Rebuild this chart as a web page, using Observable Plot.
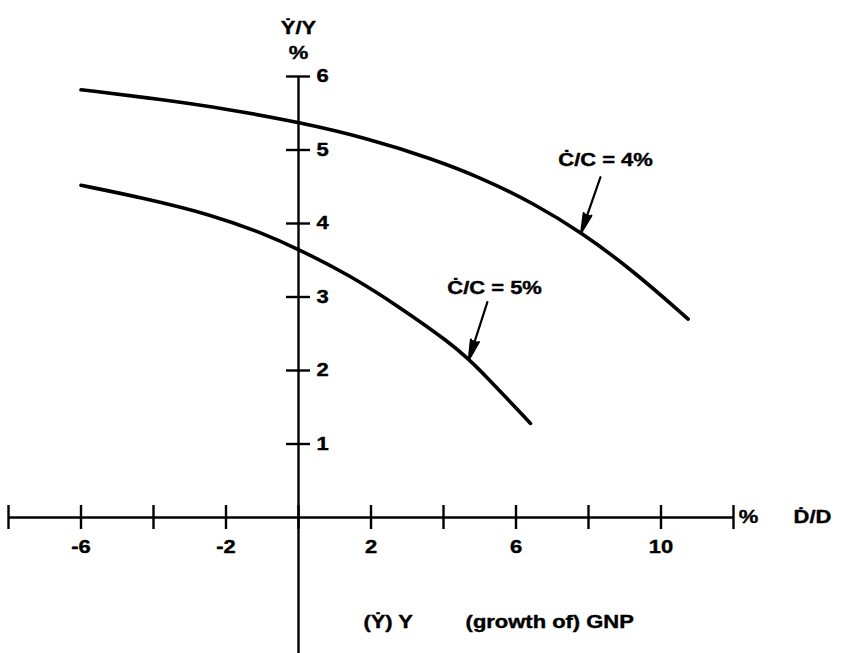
<!DOCTYPE html>
<html>
<head>
<meta charset="utf-8">
<script src="https://cdn.jsdelivr.net/npm/d3@7"></script>
<script src="https://cdn.jsdelivr.net/npm/@observablehq/plot@0.6"></script>
<style>
  html, body { margin: 0; padding: 0; background: #fff; }
  svg { display: block; }
</style>
</head>
<body>
<div id="chart"></div>
<script>
// Growth of GNP (Ẏ/Y) against growth of debt (Ḋ/D), for two consumption growth rates
const curve4X = [-6, -3.8, -2, 0, 1.9, 3.7, 5.1, 6.5, 7.8, 9.2, 10.75];
const curve4Y = [5.82, 5.69, 5.56, 5.38, 5.16, 4.88, 4.61, 4.27, 3.88, 3.37, 2.70];
const curve5X = [-6, -4.3, -2.4, -1, 0, 1.4, 2.8, 4.2, 4.7, 5.1, 6.4];
const curve5Y = [4.52, 4.35, 4.12, 3.87, 3.65, 3.30, 2.86, 2.37, 2.15, 1.96, 1.28];

const xTicks = [-8, -6, -4, -2, 0, 2, 4, 6, 8, 10, 12];
const xTickLabels = [-6, -2, 2, 6, 10];
const yTicks = [1, 2, 3, 4, 5, 6];

// curve labels: text, label centre, arrow tail, and index of the curve point the arrow hits
const labelText = ["Ċ/C = 4%", "Ċ/C = 5%"];
const labelX = [8.47, 5.41];
const labelY = [4.86, 3.12];
const arrowFromX = [8.33, 5.21];
const arrowFromY = [4.63, 2.93];
const arrowTipIndex = [8, 8];

const toPoints = (xs, ys) => xs.map((x, i) => ({x, y: ys[i]}));
const curve4 = toPoints(curve4X, curve4Y);
const curve5 = toPoints(curve5X, curve5Y);
const curves = [curve4, curve5];
const labels = labelText.map((text, i) => ({
  text, x: labelX[i], y: labelY[i],
  x1: arrowFromX[i], y1: arrowFromY[i],
  x2: curves[i][arrowTipIndex[i]].x, y2: curves[i][arrowTipIndex[i]].y
}));

const font = "Liberation Sans, Arial, DejaVu Sans, sans-serif";
const txt = {fontSize: 18, fontWeight: "bold", fill: "#000", stroke: "#000", strokeWidth: 0.4};
const ink = {stroke: "#000", strokeWidth: 2.4};

const chart = Plot.plot({
  width: 842,
  height: 653,
  margin: 0,
  style: {fontFamily: font, background: "#fff", color: "#000"},
  x: {domain: [-8, 12], range: [8, 733], axis: null},
  y: {domain: [0, 6], range: [517, 76], axis: null},
  marks: [
    // horizontal axis and its ticks
    Plot.ruleY([0], {x1: -8, x2: 12, ...ink}),
    Plot.ruleX(xTicks, {x: d => d, y1: 0, y2: 0, insetTop: -12, insetBottom: -12, ...ink}),
    Plot.text(xTickLabels, {x: d => d, y: 0, text: d => String(d), dy: 30, ...txt}),
    Plot.text(["%"], {x: 12, y: 0, text: d => d, dx: 15, ...txt}),
    Plot.text(["Ḋ/D"], {x: 12, y: 0, text: d => d, dx: 79, ...txt}),
    // vertical axis and its ticks
    Plot.ruleX([0], {y1: -1.95, y2: 6, ...ink}),
    Plot.ruleY(yTicks, {y: d => d, x1: 0, x2: 0, insetLeft: -12, insetRight: -12, ...ink}),
    Plot.text(yTicks, {x: 0, y: d => d, text: d => String(d), dx: 18, textAnchor: "start", ...txt}),
    Plot.text(["%"], {x: 0, y: 6, text: d => d, dy: -23, ...txt}),
    Plot.text(["Ẏ/Y"], {x: 0, y: 6, text: d => d, dy: -48, ...txt}),
    // the two curves
    Plot.line(curve4, {x: "x", y: "y", curve: "basis", stroke: "#000", strokeWidth: 3.6}),
    Plot.line(curve5, {x: "x", y: "y", curve: "basis", stroke: "#000", strokeWidth: 3.6}),
    // curve labels with arrows (solid heads)
    Plot.arrow(labels, {x1: "x1", y1: "y1", x2: "x2", y2: "y2", stroke: "#000", fill: "#000", strokeWidth: 2.2, headLength: 18, headAngle: 24}),
    Plot.text(labels, {x: "x", y: "y", text: "text", ...txt}),
    // caption under the horizontal axis
    Plot.text(["(Ẏ) Y"], {x: 1.79, y: 0, text: d => d, dy: 105, textAnchor: "start", ...txt}),
    Plot.text(["(growth of) GNP"], {x: 4.61, y: 0, text: d => d, dy: 105, textAnchor: "start", ...txt})
  ]
});

// the lettering is set in a broad face: widen each label about its own anchor
d3.select(chart).selectAll("text").each(function() {
  const t = this.getAttribute("transform");
  if (t) this.setAttribute("transform", t + " scale(1.22,1)");
});

document.getElementById("chart").append(chart);
</script>
</body>
</html>
